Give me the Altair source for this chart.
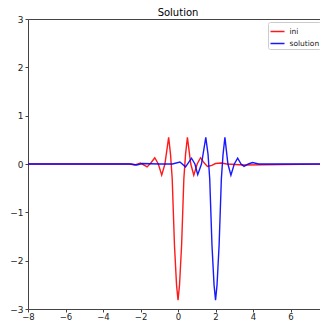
import altair as alt
import pandas as pd

# red "ini" curve
ini_x = [-8, -2.6, -2.3, -2.0, -1.65, -1.45, -1.24, -1.05, -0.87, -0.7, -0.5, -0.4, -0.31, -0.19, -0.08, 0.0,
         0.08, 0.19, 0.31, 0.4, 0.5, 0.68, 0.84, 1.02, 1.2, 1.4, 1.57, 1.8, 2.0, 2.3, 2.6, 3.5, 8]
ini_y = [0, 0, -0.02, 0.02, -0.06, 0.02, 0.13, 0.0, -0.23, 0.0, 0.55, 0.2, -0.31, -1.68, -2.5, -2.82,
         -2.5, -1.68, -0.31, 0.2, 0.55, 0.0, -0.23, 0.0, 0.13, 0.02, -0.05, -0.03, 0.01, 0.02, 0.0, -0.02, 0]

# blue "solution" curve
sol_x = [-8, -2.5, -2.2, -1.9, -1.0, -0.3, 0.1, 0.4, 0.72, 0.9, 1.05, 1.25, 1.48, 1.6, 1.69, 1.81, 1.92, 2.0,
         2.08, 2.19, 2.31, 2.4, 2.5, 2.66, 2.82, 3.0, 3.18, 3.36, 3.52, 3.75, 3.97, 4.3, 8]
sol_y = [0, 0, -0.02, 0.01, 0, 0, 0.04, -0.06, 0.12, 0.0, -0.22, 0.0, 0.55, 0.2, -0.31, -1.68, -2.5, -2.82,
         -2.5, -1.68, -0.31, 0.2, 0.55, 0.0, -0.23, 0.0, 0.12, 0.0, -0.05, 0.0, 0.03, 0.0, 0]

series = ["ini", "solution"]
colors = ["#ff0000", "#0000ff"]
x_ticks = [-8, -6, -4, -2, 0, 2, 4, 6]
y_ticks = [-3, -2, -1, 0, 1, 2, 3]

df = pd.concat([
    pd.DataFrame({"x": ini_x, "y": ini_y, "series": series[0], "order": range(len(ini_x))}),
    pd.DataFrame({"x": sol_x, "y": sol_y, "series": series[1], "order": range(len(sol_x))}),
])

FONT = "DejaVu Sans"

chart = alt.Chart(df).mark_line(clip=True, strokeWidth=1.4, opacity=0.9).encode(
    x=alt.X("x:Q", scale=alt.Scale(domain=[-8, 7.57], nice=False, zero=False),
            axis=alt.Axis(values=x_ticks, title=None, grid=False, tickSize=3, labelPadding=0,
                          labelFontSize=8.5, domain=False, labelFlush=False)),
    y=alt.Y("y:Q", scale=alt.Scale(domain=[-3, 3], nice=False),
            axis=alt.Axis(values=y_ticks, title=None, grid=False, tickSize=3, labelPadding=2,
                          labelFontSize=9, domain=False)),
    color=alt.Color("series:N", scale=alt.Scale(domain=series, range=colors),
                    legend=alt.Legend(title=None, orient="none", legendX=240, legendY=3,
                                      symbolType="stroke", symbolSize=196, symbolStrokeWidth=1.5,
                                      labelFontSize=7.5, labelOffset=4, rowPadding=-5.5,
                                      padding=1.5, strokeColor="#cccccc", fillColor="white",
                                      cornerRadius=2)),
    order="order:Q",
).properties(
    width=292, height=290,
    title=alt.Title("Solution", fontSize=10, fontWeight="normal", font=FONT, color="black",
                    offset=-3, dx=4, anchor="middle"),
    autosize=alt.AutoSizeParams(type="none"),
    padding={"left": 28, "top": 19, "right": 0, "bottom": 12},
).configure_view(
    stroke="#444444", strokeWidth=1
).configure_axis(
    labelFont=FONT, labelColor="#222222", tickColor="#444444"
).configure_legend(
    labelFont=FONT, labelColor="#222222"
)

chart.save("out.html", embed_options={"renderer": "svg", "actions": False})
